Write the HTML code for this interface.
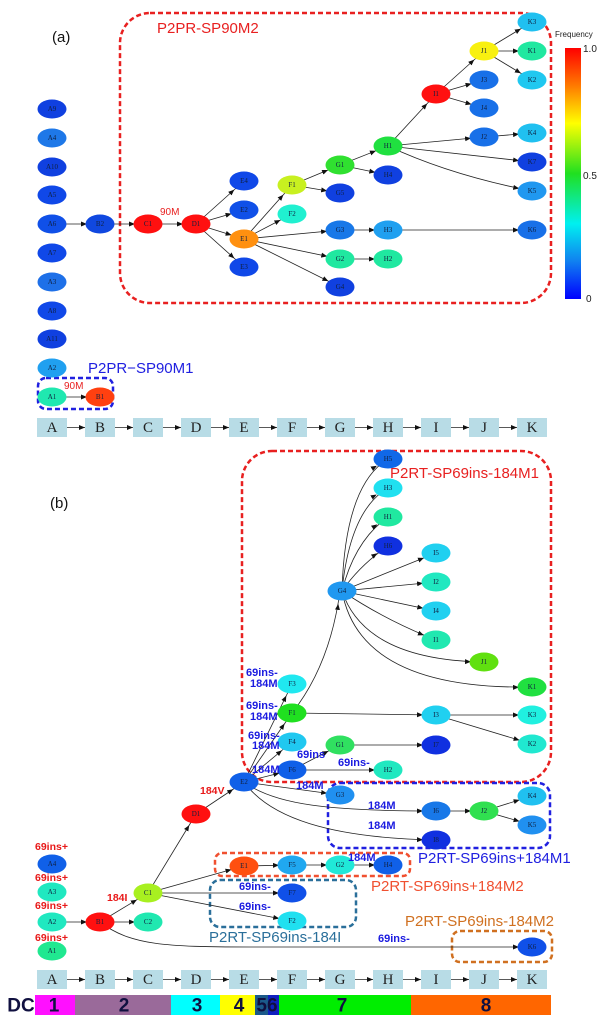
<!DOCTYPE html>
<html><head><meta charset="utf-8"><style>
html,body{margin:0;padding:0;background:#fff;}
svg{display:block;}
.n{font-family:"Liberation Serif",serif;font-size:7px;fill:#102040;text-anchor:middle;dominant-baseline:central;}
.hb{font-family:"Liberation Serif",serif;font-size:15px;fill:#222;text-anchor:middle;dominant-baseline:central;}
.lb{font-family:"Liberation Sans",sans-serif;font-weight:bold;font-size:11px;fill:#1a1ae0;}
.lr{font-family:"Liberation Sans",sans-serif;font-weight:bold;font-size:10.5px;fill:#e81818;}
.g{font-family:"Liberation Sans",sans-serif;font-size:15px;}
.dc{font-family:"Liberation Sans",sans-serif;font-weight:bold;font-size:19px;fill:#101040;text-anchor:middle;dominant-baseline:central;}
</style></head><body>
<svg width="600" height="1027" viewBox="0 0 600 1027" xmlns="http://www.w3.org/2000/svg">
<defs>
<marker id="a" markerUnits="userSpaceOnUse" markerWidth="30" markerHeight="6" refX="19" refY="2.5" orient="auto"><path d="M0,0 L6,2.5 L0,5 z" fill="#111"/></marker>
<marker id="h" markerUnits="userSpaceOnUse" markerWidth="8" markerHeight="6" refX="6" refY="2.5" orient="auto"><path d="M0,0 L6,2.5 L0,5 z" fill="#111"/></marker>
<linearGradient id="cb" x1="0" y1="0" x2="0" y2="1">
<stop offset="0" stop-color="#ff0000"/><stop offset="0.15" stop-color="#ff7a00"/><stop offset="0.3" stop-color="#ffff00"/><stop offset="0.5" stop-color="#20e020"/><stop offset="0.7" stop-color="#00f0f0"/><stop offset="0.85" stop-color="#1080f0"/><stop offset="1" stop-color="#0000ff"/>
</linearGradient>
</defs>

<!-- ===== (a) ===== -->
<text x="52" y="42" class="g" fill="#111">(a)</text>
<rect x="120" y="13" width="431" height="290" rx="30" fill="none" stroke="#e82020" stroke-width="2.5" stroke-dasharray="5,3"/>
<text x="157" y="33" class="g" fill="#e82020">P2PR-SP90M2</text>
<rect x="38" y="378" width="75" height="31" rx="8" fill="none" stroke="#2020e0" stroke-width="2.5" stroke-dasharray="5,3"/>
<text x="88" y="373" class="g" fill="#2020e0">P2PR−SP90M1</text>
<text x="64" y="389" font-family="Liberation Sans,sans-serif" font-size="10" fill="#e82020">90M</text>
<text x="160" y="215" font-family="Liberation Sans,sans-serif" font-size="10" fill="#e82020">90M</text>

<!-- colorbar -->
<rect x="565" y="48" width="16" height="251" fill="url(#cb)"/>
<text x="555" y="37" font-family="Liberation Sans,sans-serif" font-size="8" fill="#222">Frequency</text>
<text x="583" y="52" font-family="Liberation Sans,sans-serif" font-size="10" fill="#222">1.0</text>
<text x="583" y="179" font-family="Liberation Sans,sans-serif" font-size="10" fill="#222">0.5</text>
<text x="586" y="302" font-family="Liberation Sans,sans-serif" font-size="10" fill="#222">0</text>

<g stroke="#222" stroke-width="0.8" fill="none" marker-end="url(#a)">
<line x1="52" y1="224" x2="100" y2="224"/>
<line x1="100" y1="224" x2="148" y2="224"/>
<line x1="148" y1="224" x2="196" y2="224"/>
<line x1="196" y1="224" x2="244" y2="181"/>
<line x1="196" y1="224" x2="244" y2="210"/>
<line x1="196" y1="224" x2="244" y2="239"/>
<line x1="196" y1="224" x2="244" y2="267"/>
<line x1="244" y1="239" x2="292" y2="185"/>
<line x1="244" y1="239" x2="292" y2="214"/>
<line x1="244" y1="239" x2="340" y2="230"/>
<line x1="244" y1="239" x2="340" y2="259"/>
<line x1="244" y1="239" x2="340" y2="287"/>
<line x1="292" y1="185" x2="340" y2="165"/>
<line x1="292" y1="185" x2="340" y2="193"/>
<line x1="340" y1="165" x2="388" y2="146"/>
<line x1="340" y1="165" x2="388" y2="175"/>
<line x1="388" y1="146" x2="436" y2="94"/>
<line x1="388" y1="146" x2="484" y2="137"/>
<line x1="388" y1="146" x2="532" y2="162"/>
<path d="M388,146 Q450,175 532,191"/>
<line x1="436" y1="94" x2="484" y2="51"/>
<line x1="436" y1="94" x2="484" y2="80"/>
<line x1="436" y1="94" x2="484" y2="108"/>
<line x1="484" y1="51" x2="532" y2="22"/>
<line x1="484" y1="51" x2="532" y2="51"/>
<line x1="484" y1="51" x2="532" y2="80"/>
<line x1="484" y1="137" x2="532" y2="133"/>
<line x1="340" y1="230" x2="388" y2="230"/>
<line x1="388" y1="230" x2="532" y2="230"/>
<line x1="340" y1="259" x2="388" y2="259"/>
<line x1="52" y1="397" x2="100" y2="397"/>
</g>

<g stroke="none">
<ellipse cx="52" cy="109" rx="14.5" ry="9.5" fill="#1040e0"/><text x="52" y="109" class="n">A9</text>
<ellipse cx="52" cy="138" rx="14.5" ry="9.5" fill="#1e78e8"/><text x="52" y="138" class="n">A4</text>
<ellipse cx="52" cy="167" rx="14.5" ry="9.5" fill="#1040e0"/><text x="52" y="167" class="n">A10</text>
<ellipse cx="52" cy="195" rx="14.5" ry="9.5" fill="#1048e8"/><text x="52" y="195" class="n">A5</text>
<ellipse cx="52" cy="224" rx="14.5" ry="9.5" fill="#1050e8"/><text x="52" y="224" class="n">A6</text>
<ellipse cx="52" cy="253" rx="14.5" ry="9.5" fill="#1048e8"/><text x="52" y="253" class="n">A7</text>
<ellipse cx="52" cy="282" rx="14.5" ry="9.5" fill="#1e70e8"/><text x="52" y="282" class="n">A3</text>
<ellipse cx="52" cy="311" rx="14.5" ry="9.5" fill="#1048e8"/><text x="52" y="311" class="n">A8</text>
<ellipse cx="52" cy="339" rx="14.5" ry="9.5" fill="#1040e0"/><text x="52" y="339" class="n">A11</text>
<ellipse cx="52" cy="368" rx="14.5" ry="9.5" fill="#20a0f0"/><text x="52" y="368" class="n">A2</text>
<ellipse cx="52" cy="397" rx="14.5" ry="9.5" fill="#20e8b0"/><text x="52" y="397" class="n">A1</text>
<ellipse cx="100" cy="397" rx="14.5" ry="9.5" fill="#ff4010"/><text x="100" y="397" class="n">B1</text>
<ellipse cx="100" cy="224" rx="14.5" ry="9.5" fill="#1048e0"/><text x="100" y="224" class="n">B2</text>
<ellipse cx="148" cy="224" rx="14.5" ry="9.5" fill="#ff1010"/><text x="148" y="224" class="n">C1</text>
<ellipse cx="196" cy="224" rx="14.5" ry="9.5" fill="#ff1010"/><text x="196" y="224" class="n">D1</text>
<ellipse cx="244" cy="181" rx="14.5" ry="9.5" fill="#1048e8"/><text x="244" y="181" class="n">E4</text>
<ellipse cx="244" cy="210" rx="14.5" ry="9.5" fill="#1050e8"/><text x="244" y="210" class="n">E2</text>
<ellipse cx="244" cy="239" rx="14.5" ry="9.5" fill="#ff9010"/><text x="244" y="239" class="n">E1</text>
<ellipse cx="244" cy="267" rx="14.5" ry="9.5" fill="#1048e8"/><text x="244" y="267" class="n">E3</text>
<ellipse cx="292" cy="185" rx="14.5" ry="9.5" fill="#c8f020"/><text x="292" y="185" class="n">F1</text>
<ellipse cx="292" cy="214" rx="14.5" ry="9.5" fill="#20f0d0"/><text x="292" y="214" class="n">F2</text>
<ellipse cx="340" cy="165" rx="14.5" ry="9.5" fill="#30e030"/><text x="340" y="165" class="n">G1</text>
<ellipse cx="340" cy="193" rx="14.5" ry="9.5" fill="#1040e0"/><text x="340" y="193" class="n">G5</text>
<ellipse cx="340" cy="230" rx="14.5" ry="9.5" fill="#1878e8"/><text x="340" y="230" class="n">G3</text>
<ellipse cx="340" cy="259" rx="14.5" ry="9.5" fill="#20e8a0"/><text x="340" y="259" class="n">G2</text>
<ellipse cx="340" cy="287" rx="14.5" ry="9.5" fill="#1040e0"/><text x="340" y="287" class="n">G4</text>
<ellipse cx="388" cy="146" rx="14.5" ry="9.5" fill="#20e040"/><text x="388" y="146" class="n">H1</text>
<ellipse cx="388" cy="175" rx="14.5" ry="9.5" fill="#1040e0"/><text x="388" y="175" class="n">H4</text>
<ellipse cx="388" cy="230" rx="14.5" ry="9.5" fill="#20a0f0"/><text x="388" y="230" class="n">H3</text>
<ellipse cx="388" cy="259" rx="14.5" ry="9.5" fill="#20e8a0"/><text x="388" y="259" class="n">H2</text>
<ellipse cx="436" cy="94" rx="14.5" ry="9.5" fill="#ff1010"/><text x="436" y="94" class="n">I1</text>
<ellipse cx="484" cy="51" rx="14.5" ry="9.5" fill="#f8f010"/><text x="484" y="51" class="n">J1</text>
<ellipse cx="484" cy="80" rx="14.5" ry="9.5" fill="#1870e8"/><text x="484" y="80" class="n">J3</text>
<ellipse cx="484" cy="108" rx="14.5" ry="9.5" fill="#1870e8"/><text x="484" y="108" class="n">J4</text>
<ellipse cx="484" cy="137" rx="14.5" ry="9.5" fill="#1870e8"/><text x="484" y="137" class="n">J2</text>
<ellipse cx="532" cy="22" rx="14.5" ry="9.5" fill="#20c0f0"/><text x="532" y="22" class="n">K3</text>
<ellipse cx="532" cy="51" rx="14.5" ry="9.5" fill="#20e8a0"/><text x="532" y="51" class="n">K1</text>
<ellipse cx="532" cy="80" rx="14.5" ry="9.5" fill="#20c8f0"/><text x="532" y="80" class="n">K2</text>
<ellipse cx="532" cy="133" rx="14.5" ry="9.5" fill="#20c0f0"/><text x="532" y="133" class="n">K4</text>
<ellipse cx="532" cy="162" rx="14.5" ry="9.5" fill="#1040e0"/><text x="532" y="162" class="n">K7</text>
<ellipse cx="532" cy="191" rx="14.5" ry="9.5" fill="#2098f0"/><text x="532" y="191" class="n">K5</text>
<ellipse cx="532" cy="230" rx="14.5" ry="9.5" fill="#1870e8"/><text x="532" y="230" class="n">K6</text>
</g>

<!-- header a -->
<g fill="#b8dce6">
<rect x="37" y="418" width="30" height="19"/><rect x="85" y="418" width="30" height="19"/><rect x="133" y="418" width="30" height="19"/><rect x="181" y="418" width="30" height="19"/><rect x="229" y="418" width="30" height="19"/><rect x="277" y="418" width="30" height="19"/><rect x="325" y="418" width="30" height="19"/><rect x="373" y="418" width="30" height="19"/><rect x="421" y="418" width="30" height="19"/><rect x="469" y="418" width="30" height="19"/><rect x="517" y="418" width="30" height="19"/>
</g>
<g stroke="#222" stroke-width="0.8" marker-end="url(#h)">
<line x1="67" y1="427.5" x2="85" y2="427.5"/><line x1="115" y1="427.5" x2="133" y2="427.5"/><line x1="163" y1="427.5" x2="181" y2="427.5"/><line x1="211" y1="427.5" x2="229" y2="427.5"/><line x1="259" y1="427.5" x2="277" y2="427.5"/><line x1="307" y1="427.5" x2="325" y2="427.5"/><line x1="355" y1="427.5" x2="373" y2="427.5"/><line x1="403" y1="427.5" x2="421" y2="427.5"/><line x1="451" y1="427.5" x2="469" y2="427.5"/><line x1="499" y1="427.5" x2="517" y2="427.5"/>
</g>
<g class="hb">
<text x="52" y="428" class="hb">A</text><text x="100" y="428" class="hb">B</text><text x="148" y="428" class="hb">C</text><text x="196" y="428" class="hb">D</text><text x="244" y="428" class="hb">E</text><text x="292" y="428" class="hb">F</text><text x="340" y="428" class="hb">G</text><text x="388" y="428" class="hb">H</text><text x="436" y="428" class="hb">I</text><text x="484" y="428" class="hb">J</text><text x="532" y="428" class="hb">K</text>
</g>

<!-- ===== (b) ===== -->
<text x="50" y="508" class="g" fill="#111">(b)</text>
<rect x="242" y="451" width="309" height="331" rx="30" fill="none" stroke="#e82020" stroke-width="2.5" stroke-dasharray="5,3"/>
<text x="390" y="478" class="g" fill="#e82020" font-size="14">P2RT-SP69ins-184M1</text>
<rect x="328" y="783" width="222" height="65" rx="12" fill="none" stroke="#2020e0" stroke-width="2.5" stroke-dasharray="5,3"/>
<text x="418" y="863" class="g" fill="#2020e0" font-size="14">P2RT-SP69ins+184M1</text>
<rect x="215" y="853" width="195" height="23" rx="7" fill="none" stroke="#f05030" stroke-width="2.5" stroke-dasharray="5,3"/>
<text x="371" y="891" class="g" fill="#f05030" font-size="14">P2RT-SP69ins+184M2</text>
<rect x="210" y="880" width="146" height="47" rx="10" fill="none" stroke="#2a6f9a" stroke-width="2.5" stroke-dasharray="5,3"/>
<text x="209" y="942" class="g" fill="#2a6f9a" font-size="14">P2RT-SP69ins-184I</text>
<rect x="452" y="931" width="100" height="31" rx="8" fill="none" stroke="#d07020" stroke-width="2.5" stroke-dasharray="5,3"/>
<text x="405" y="926" class="g" fill="#d07020" font-size="14">P2RT-SP69ins-184M2</text>

<g stroke="#222" stroke-width="0.8" fill="none" marker-end="url(#a)">
<line x1="52" y1="922" x2="100" y2="922"/>
<line x1="100" y1="922" x2="148" y2="893"/>
<line x1="100" y1="922" x2="148" y2="922"/>
<path d="M100,922 C130,945 165,947 250,947 L532,947"/>
<line x1="148" y1="893" x2="196" y2="814"/>
<line x1="148" y1="893" x2="244" y2="866"/>
<line x1="148" y1="893" x2="292" y2="893"/>
<line x1="148" y1="893" x2="292" y2="921"/>
<line x1="196" y1="814" x2="244" y2="782"/>
<line x1="244" y1="782" x2="292" y2="684"/>
<line x1="244" y1="782" x2="292" y2="713"/>
<line x1="244" y1="782" x2="292" y2="742"/>
<line x1="244" y1="782" x2="292" y2="770"/>
<line x1="244" y1="782" x2="340" y2="795"/>
<path d="M244,782 C275,805 330,811 436,811"/>
<path d="M244,782 C270,818 330,838 436,840"/>
<path d="M292,713 Q330,665 340,591"/>
<line x1="292" y1="713" x2="436" y2="715"/>
<line x1="292" y1="770" x2="340" y2="745"/>
<line x1="292" y1="770" x2="388" y2="770"/>
<line x1="340" y1="745" x2="436" y2="745"/>
<line x1="436" y1="715" x2="532" y2="715"/>
<line x1="436" y1="715" x2="532" y2="744"/>
<line x1="436" y1="811" x2="484" y2="811"/>
<line x1="484" y1="811" x2="532" y2="796"/>
<line x1="484" y1="811" x2="532" y2="825"/>
<line x1="244" y1="866" x2="292" y2="865"/>
<line x1="292" y1="865" x2="340" y2="865"/>
<line x1="340" y1="865" x2="388" y2="865"/>
<path d="M342,591 Q345,485 388,459"/>
<path d="M342,591 Q350,510 388,488"/>
<path d="M342,591 Q355,540 388,517"/>
<path d="M342,591 Q360,565 388,546"/>
<line x1="342" y1="591" x2="436" y2="553"/>
<line x1="342" y1="591" x2="436" y2="582"/>
<line x1="342" y1="591" x2="436" y2="611"/>
<path d="M342,591 Q385,620 436,640"/>
<path d="M342,591 Q365,660 484,662"/>
<path d="M342,591 Q360,690 532,687"/>
</g>

<g stroke="none">
<ellipse cx="388" cy="459" rx="14.5" ry="9.5" fill="#1068e8"/><text x="388" y="459" class="n">H5</text>
<ellipse cx="388" cy="488" rx="14.5" ry="9.5" fill="#20e0f0"/><text x="388" y="488" class="n">H3</text>
<ellipse cx="388" cy="517" rx="14.5" ry="9.5" fill="#20e8a0"/><text x="388" y="517" class="n">H1</text>
<ellipse cx="388" cy="546" rx="14.5" ry="9.5" fill="#1030e0"/><text x="388" y="546" class="n">H6</text>
<ellipse cx="436" cy="553" rx="14.5" ry="9.5" fill="#20d0f0"/><text x="436" y="553" class="n">I5</text>
<ellipse cx="436" cy="582" rx="14.5" ry="9.5" fill="#20e8c0"/><text x="436" y="582" class="n">I2</text>
<ellipse cx="436" cy="611" rx="14.5" ry="9.5" fill="#20d0f0"/><text x="436" y="611" class="n">I4</text>
<ellipse cx="436" cy="640" rx="14.5" ry="9.5" fill="#20e8b0"/><text x="436" y="640" class="n">I1</text>
<ellipse cx="342" cy="591" rx="14.5" ry="9.5" fill="#2098f0"/><text x="342" y="591" class="n">G4</text>
<ellipse cx="484" cy="662" rx="14.5" ry="9.5" fill="#60e010"/><text x="484" y="662" class="n">J1</text>
<ellipse cx="532" cy="687" rx="14.5" ry="9.5" fill="#20e040"/><text x="532" y="687" class="n">K1</text>
<ellipse cx="292" cy="684" rx="14.5" ry="9.5" fill="#20e8f0"/><text x="292" y="684" class="n">F3</text>
<ellipse cx="292" cy="713" rx="14.5" ry="9.5" fill="#20e020"/><text x="292" y="713" class="n">F1</text>
<ellipse cx="436" cy="715" rx="14.5" ry="9.5" fill="#20d0f0"/><text x="436" y="715" class="n">I3</text>
<ellipse cx="532" cy="715" rx="14.5" ry="9.5" fill="#20f0e0"/><text x="532" y="715" class="n">K3</text>
<ellipse cx="532" cy="744" rx="14.5" ry="9.5" fill="#20e8d0"/><text x="532" y="744" class="n">K2</text>
<ellipse cx="292" cy="742" rx="14.5" ry="9.5" fill="#20c8f0"/><text x="292" y="742" class="n">F4</text>
<ellipse cx="340" cy="745" rx="14.5" ry="9.5" fill="#30e060"/><text x="340" y="745" class="n">G1</text>
<ellipse cx="436" cy="745" rx="14.5" ry="9.5" fill="#1030e0"/><text x="436" y="745" class="n">I7</text>
<ellipse cx="292" cy="770" rx="14.5" ry="9.5" fill="#1060e8"/><text x="292" y="770" class="n">F6</text>
<ellipse cx="388" cy="770" rx="14.5" ry="9.5" fill="#20e8c0"/><text x="388" y="770" class="n">H2</text>
<ellipse cx="244" cy="782" rx="14.5" ry="9.5" fill="#1060e8"/><text x="244" y="782" class="n">E2</text>
<ellipse cx="340" cy="795" rx="14.5" ry="9.5" fill="#2090f0"/><text x="340" y="795" class="n">G3</text>
<ellipse cx="196" cy="814" rx="14.5" ry="9.5" fill="#ff1010"/><text x="196" y="814" class="n">D1</text>
<ellipse cx="436" cy="811" rx="14.5" ry="9.5" fill="#1878e8"/><text x="436" y="811" class="n">I6</text>
<ellipse cx="484" cy="811" rx="14.5" ry="9.5" fill="#30e050"/><text x="484" y="811" class="n">J2</text>
<ellipse cx="532" cy="796" rx="14.5" ry="9.5" fill="#20c0f0"/><text x="532" y="796" class="n">K4</text>
<ellipse cx="532" cy="825" rx="14.5" ry="9.5" fill="#2090f0"/><text x="532" y="825" class="n">K5</text>
<ellipse cx="436" cy="840" rx="14.5" ry="9.5" fill="#1030e0"/><text x="436" y="840" class="n">I8</text>
<ellipse cx="244" cy="866" rx="14.5" ry="9.5" fill="#ff5010"/><text x="244" y="866" class="n">E1</text>
<ellipse cx="292" cy="865" rx="14.5" ry="9.5" fill="#20a8f0"/><text x="292" y="865" class="n">F5</text>
<ellipse cx="340" cy="865" rx="14.5" ry="9.5" fill="#20e8d8"/><text x="340" y="865" class="n">G2</text>
<ellipse cx="388" cy="865" rx="14.5" ry="9.5" fill="#1060e8"/><text x="388" y="865" class="n">H4</text>
<ellipse cx="52" cy="864" rx="14.5" ry="9.5" fill="#1060e8"/><text x="52" y="864" class="n">A4</text>
<ellipse cx="52" cy="892" rx="14.5" ry="9.5" fill="#20e8c0"/><text x="52" y="892" class="n">A3</text>
<ellipse cx="52" cy="922" rx="14.5" ry="9.5" fill="#20e8c0"/><text x="52" y="922" class="n">A2</text>
<ellipse cx="52" cy="951" rx="14.5" ry="9.5" fill="#20e890"/><text x="52" y="951" class="n">A1</text>
<ellipse cx="100" cy="922" rx="14.5" ry="9.5" fill="#ff1010"/><text x="100" y="922" class="n">B1</text>
<ellipse cx="148" cy="893" rx="14.5" ry="9.5" fill="#a8f020"/><text x="148" y="893" class="n">C1</text>
<ellipse cx="148" cy="922" rx="14.5" ry="9.5" fill="#20e8b0"/><text x="148" y="922" class="n">C2</text>
<ellipse cx="292" cy="893" rx="14.5" ry="9.5" fill="#1050e8"/><text x="292" y="893" class="n">F7</text>
<ellipse cx="292" cy="921" rx="14.5" ry="9.5" fill="#20e0f0"/><text x="292" y="921" class="n">F2</text>
<ellipse cx="532" cy="947" rx="14.5" ry="9.5" fill="#1050e8"/><text x="532" y="947" class="n">K6</text>
</g>

<!-- edge labels (b) -->
<text x="246" y="676" class="lb">69ins-</text>
<text x="250" y="687" class="lb">184M</text>
<text x="246" y="709" class="lb">69ins-</text>
<text x="250" y="720" class="lb">184M</text>
<text x="248" y="739" class="lb">69ins-</text>
<text x="252" y="749" class="lb">184M</text>
<text x="252" y="773" class="lb">184M</text>
<text x="297" y="758" class="lb">69ins</text>
<text x="338" y="766" class="lb">69ins-</text>
<text x="296" y="789" class="lb">184M</text>
<text x="368" y="809" class="lb">184M</text>
<text x="368" y="829" class="lb">184M</text>
<text x="348" y="861" class="lb">184M</text>
<text x="239" y="890" class="lb">69ins-</text>
<text x="239" y="910" class="lb">69ins-</text>
<text x="378" y="942" class="lb">69ins-</text>
<text x="35" y="850" class="lr">69ins+</text>
<text x="35" y="881" class="lr">69ins+</text>
<text x="35" y="909" class="lr">69ins+</text>
<text x="35" y="941" class="lr">69ins+</text>
<text x="107" y="901" class="lr">184I</text>
<text x="200" y="794" class="lr">184V</text>

<!-- header b -->
<g fill="#b8dce6">
<rect x="37" y="970" width="30" height="19"/><rect x="85" y="970" width="30" height="19"/><rect x="133" y="970" width="30" height="19"/><rect x="181" y="970" width="30" height="19"/><rect x="229" y="970" width="30" height="19"/><rect x="277" y="970" width="30" height="19"/><rect x="325" y="970" width="30" height="19"/><rect x="373" y="970" width="30" height="19"/><rect x="421" y="970" width="30" height="19"/><rect x="469" y="970" width="30" height="19"/><rect x="517" y="970" width="30" height="19"/>
</g>
<g stroke="#222" stroke-width="0.8" marker-end="url(#h)">
<line x1="67" y1="979.5" x2="85" y2="979.5"/><line x1="115" y1="979.5" x2="133" y2="979.5"/><line x1="163" y1="979.5" x2="181" y2="979.5"/><line x1="211" y1="979.5" x2="229" y2="979.5"/><line x1="259" y1="979.5" x2="277" y2="979.5"/><line x1="307" y1="979.5" x2="325" y2="979.5"/><line x1="355" y1="979.5" x2="373" y2="979.5"/><line x1="403" y1="979.5" x2="421" y2="979.5"/><line x1="451" y1="979.5" x2="469" y2="979.5"/><line x1="499" y1="979.5" x2="517" y2="979.5"/>
</g>
<text x="52" y="980" class="hb">A</text><text x="100" y="980" class="hb">B</text><text x="148" y="980" class="hb">C</text><text x="196" y="980" class="hb">D</text><text x="244" y="980" class="hb">E</text><text x="292" y="980" class="hb">F</text><text x="340" y="980" class="hb">G</text><text x="388" y="980" class="hb">H</text><text x="436" y="980" class="hb">I</text><text x="484" y="980" class="hb">J</text><text x="532" y="980" class="hb">K</text>

<!-- DC bar -->
<text x="21" y="1006" class="dc">DC</text>
<rect x="35" y="995" width="40" height="20" fill="#ff10ff"/>
<rect x="75" y="995" width="96" height="20" fill="#9a6a9a"/>
<rect x="171" y="995" width="49" height="20" fill="#00ffff"/>
<rect x="220" y="995" width="35" height="20" fill="#ffff00"/>
<rect x="255" y="995" width="13" height="20" fill="#1b5a8a"/>
<rect x="268" y="995" width="11" height="20" fill="#1020c0"/>
<rect x="279" y="995" width="132" height="20" fill="#00ee00"/>
<rect x="411" y="995" width="140" height="20" fill="#ff6600"/>
<text x="54" y="1006" class="dc">1</text>
<text x="124" y="1006" class="dc">2</text>
<text x="197" y="1006" class="dc">3</text>
<text x="239" y="1006" class="dc">4</text>
<text x="267" y="1006" class="dc">56</text>
<text x="342" y="1006" class="dc">7</text>
<text x="486" y="1006" class="dc">8</text>
</svg>
</body></html>
